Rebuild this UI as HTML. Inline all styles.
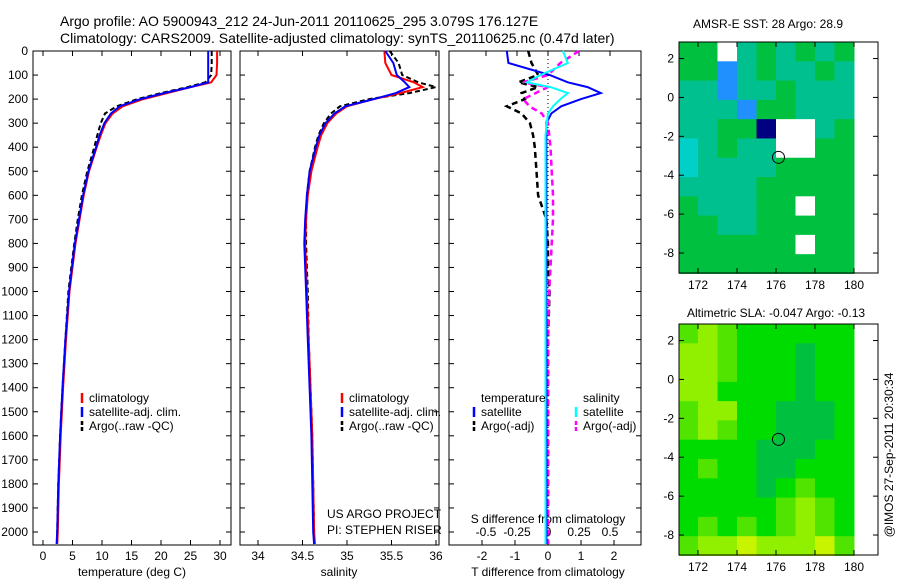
<!DOCTYPE html>
<html><head><meta charset="utf-8"><style>
body{margin:0;background:#fff}
svg{display:block;font-family:"Liberation Sans",sans-serif}
text{fill:#000}
</style></head><body>
<svg id="chart" width="900" height="580" viewBox="0 0 900 580">
<text x="60" y="26" font-size="14">Argo profile: AO 5900943_212 24-Jun-2011 20110625_295 3.079S 176.127E</text>
<text x="60" y="43" font-size="14">Climatology: CARS2009. Satellite-adjusted climatology: synTS_20110625.nc (0.47d later)</text>
<text x="768" y="28" font-size="12" text-anchor="middle">AMSR-E SST: 28 Argo: 28.9</text>
<text x="776" y="317" font-size="12" text-anchor="middle">Altimetric SLA: -0.047 Argo: -0.13</text>
<text transform="translate(893,455) rotate(-90)" font-size="12" text-anchor="middle">@IMOS 27-Sep-2011 20:30:34</text>
<g id="g"></g>
</svg>
<script>
const depths=[0,50,100,130,150,175,200,230,260,300,350,400,500,600,700,800,900,1000,1200,1400,1600,1800,2000,2050];
const tClim=[29.5,29.5,29.4,28.5,25,21,17,13.5,11.8,10.6,9.8,9.1,7.8,6.9,6.2,5.5,5.0,4.5,3.9,3.4,3.0,2.7,2.5,2.4];
const tSat=[28,28,28,28,25,20.5,16.5,13,11.5,10.4,9.6,9.0,7.7,6.8,6.1,5.4,4.9,4.4,3.8,3.3,2.9,2.6,2.4,2.3];
const tArgo=[28.6,28.6,28.5,27.5,24.5,20,16,12.5,10.5,9.8,9.2,8.7,7.5,6.6,5.9,5.3,4.8,4.3,3.8,3.3,2.9,2.6,2.4,2.4];
const sClim=[35.42,35.43,35.5,35.75,35.85,35.6,35.3,35.0,34.88,34.78,34.71,34.67,34.6,34.56,34.54,34.53,34.54,34.55,34.57,34.59,34.61,34.62,34.63,34.64];
const sSat=[35.43,35.52,35.56,35.65,35.7,35.55,35.3,34.98,34.86,34.76,34.69,34.65,34.58,34.55,34.53,34.52,34.53,34.54,34.56,34.58,34.6,34.61,34.62,34.63];
const sArgo=[35.48,35.58,35.62,35.8,36.0,35.7,35.25,34.92,34.82,34.74,34.68,34.64,34.58,34.55,34.54,34.54,34.55,34.56,34.57,34.59,34.61,34.62,34.63,34.63];
const dTsat=[-1.25,-1.2,0.05,0.6,1.2,1.6,1.0,0.4,0.1,-0.05,-0.05,-0.05,-0.05,-0.05,-0.05,-0.05,-0.05,-0.05,-0.05,-0.05,-0.05,-0.05,-0.05,-0.05];
const dSsat=[0.12,0.16,-0.06,-0.17,0.02,0.16,0.1,0.04,0.0,-0.01,-0.02,-0.02,-0.02,-0.02,-0.02,-0.02,-0.02,-0.02,-0.02,-0.02,-0.02,-0.02,-0.02,-0.02];
const dTargo=[-0.6,-0.5,-0.3,-0.9,-0.3,-0.8,-0.7,-1.25,-0.8,-0.55,-0.45,-0.4,-0.35,-0.3,-0.05,0,0,0.05,0,0,0,0,0,0];
const dSargo=[0.25,0.1,0.0,-0.2,0.0,-0.1,-0.2,-0.15,-0.05,0.0,0.01,0.02,0.03,0.04,0.04,0.03,0.02,0.01,0,0,0,0,0,0];
const depthTicks=[0,100,200,300,400,500,600,700,800,900,1000,1100,1200,1300,1400,1500,1600,1700,1800,1900,2000];
const tempTicks=[0,5,10,15,20,25,30];
const salTicks=["34","34.5","35","35.5","36"];
const dTTicks=["-2","-1","0","1","2"];
const dSTicks=["-0.5","-0.25","0","0.25","0.5"];
const lonTicks=[172,174,176,178,180];
const latTicks=[2,0,-2,-4,-6,-8];
const sstRows=["ggwtgtgtg","ggbtgttgt","ttbttgttt","tttbggttt","ttggnwwtg","ctgttwwgg","cttttgggg","ttttggggg","gtttggwgg","ggttggggg","ggggggwgg","ggggggggg"];
const slaRows=["lylGGGGGG","yylGGGdGG","yylGGGdGG","yyGGGGdGG","lyyGGdddG","lylGGdddG","GGGGdddGG","GlGGddGGG","GGGGdGlGG","GGGGGlylG","GlGlGlylG","lyyYyyyYl"];
const profileLat=[-3.079], profileLon=[176.127];

const NS="http://www.w3.org/2000/svg";const G=document.getElementById('g');
function mk(t,a,p){const e=document.createElementNS(NS,t);for(const k in a)e.setAttribute(k,a[k]);(p||G).appendChild(e);return e;}
const yD=d=>51+d*0.2405;
const xT=v=>43+v*5.9, xS=v=>258+(v-34)*89, xdT=v=>548+v*33, xdS=v=>548+v*124;
const panels=[[33,231],[240,439],[449,641]];
panels.forEach((p,i)=>{
 const r=mk('rect',{x:p[0],y:51,width:p[1]-p[0],height:494,fill:'none',stroke:'#000','stroke-width':1});
 
 
 depthTicks.forEach(d=>{mk('line',{x1:p[0],x2:p[0]+5,y1:yD(d),y2:yD(d),stroke:'#000'});mk('line',{x1:p[1]-5,x2:p[1],y1:yD(d),y2:yD(d),stroke:'#000'});});
});
depthTicks.forEach(d=>{const t=mk('text',{x:28,y:yD(d)+4,'font-size':12,'text-anchor':'end'});t.textContent=d;
 
 });
function xticks(vals,fx,y,p){vals.forEach(v=>{const x=fx(+v);mk('line',{x1:x,x2:x,y1:545,y2:540,stroke:'#000'});mk('line',{x1:x,x2:x,y1:51,y2:56,stroke:'#000'});
 const t=mk('text',{x:x,y:y,'font-size':12,'text-anchor':'middle'});t.textContent=v;
 
 });}
xticks(tempTicks,xT,560);xticks(salTicks,xS,560);
dTTicks.forEach(v=>{const x=xdT(+v);mk('line',{x1:x,x2:x,y1:545,y2:540,stroke:'#000'});const t=mk('text',{x:x,y:560,'font-size':12,'text-anchor':'middle'});t.textContent=v;
 
 });
dSTicks.forEach(v=>{const x=xdS(+v);mk('line',{x1:x,x2:x,y1:51,y2:56,stroke:'#000'});const t=mk('text',{x:x,y:536,'font-size':12,'text-anchor':'middle'});t.textContent=v;
 
 });
function lbl(x,y,s,name,anchor){const t=mk('text',{x:x,y:y,'font-size':12,'text-anchor':anchor||'start'});t.textContent=s;
 
 return t;}
lbl(132,576,'temperature (deg C)','x-axis-title-temperature','middle');
lbl(339,576,'salinity','x-axis-title-salinity','middle');
lbl(548,576,'T difference from climatology','x-axis-title-t-diff','middle');
lbl(548,523,'S difference from climatology','axis-title-s-diff','middle');
lbl(327,518,'US ARGO PROJECT','project-label');
lbl(327,534,'PI: STEPHEN RISER','pi-label');
mk('line',{x1:548,x2:548,y1:51,y2:545,stroke:'#000','stroke-dasharray':'1,3'});
function line(xs,fx,col,name,dash,w){const pts=xs.map((v,i)=>fx(v).toFixed(1)+','+yD(depths[i]).toFixed(1)).join(' ');
 const e=mk('polyline',{points:pts,fill:'none',stroke:col,'stroke-width':w||2});if(dash)e.setAttribute('stroke-dasharray',dash);
 
 }
line(tArgo,xT,'#000','temp-argo-line','5,3',2);line(tClim,xT,'#f00','temp-climatology-line');line(tSat,xT,'#00f','temp-satellite-line');
line(sArgo,xS,'#000','sal-argo-line','5,3',2);line(sClim,xS,'#f00','sal-climatology-line');line(sSat,xS,'#00f','sal-satellite-line');
line(dTargo,xdT,'#000','tdiff-argo-line','6,4',2.5);line(dSargo,xdS,'#f0f','sdiff-argo-line','6,4',2.5);line(dTsat,xdT,'#00f','tdiff-satellite-line');line(dSsat,xdS,'#0ff','sdiff-satellite-line');
function leg(x,y,col,s,dash){mk('line',{x1:x,x2:x,y1:y-9,y2:y+1,stroke:col,'stroke-width':2.5,'stroke-dasharray':dash||'none'});lbl(x+7,y,s,'legend-entry');}
[[82,'climatology','#f00'],[342,'climatology','#f00']].forEach(a=>leg(a[0],402,a[2],a[1]));
leg(82,416,'#00f','satellite-adj. clim.');leg(82,430,'#000','Argo(..raw -QC)','4,2');
leg(342,416,'#00f','satellite-adj. clim.');leg(342,430,'#000','Argo(..raw -QC)','4,2');
lbl(481,402,'temperature','legend-header-temperature');lbl(583,402,'salinity','legend-header-salinity');
leg(474,416,'#00f','satellite');leg(474,430,'#000','Argo(-adj)','4,2');leg(576,416,'#0ff','satellite');leg(576,430,'#f0f','Argo(-adj)','4,2');
const sstCol={g:'#00c040',t:'#00c090',c:'#00d0c8',b:'#2090ff',n:'#000080',w:'#ffffff'};
const slaCol={l:'#50e400',y:'#90f000',G:'#00dc00',d:'#00c040',Y:'#c8f400'};
function map(top,rows,cols,name){
 const lx=v=>698+(v-172)*19.5, ly=v=>top+(2.85-v)*19.45;
 rows.forEach((r,i)=>{[...r].forEach((c,j)=>{const x0=Math.max(lx(171+j),679),x1=Math.min(lx(172+j),856);const y0=ly(2.85-i*(11.9/12)),y1=ly(2.85-(i+1)*(11.9/12));
  const e=mk('rect',{x:x0,y:y0,width:x1-x0+0.5,height:y1-y0+0.5,fill:cols[c]});
  
  });});
 const f=mk('rect',{x:679,y:top,width:199,height:231,fill:'none',stroke:'#000'});
 
 
 lonTicks.forEach(v=>{const x=lx(v);mk('line',{x1:x,x2:x,y1:top+231,y2:top+226,stroke:'#000'});mk('line',{x1:x,x2:x,y1:top,y2:top+5,stroke:'#000'});lbl(x,top+247,String(v),name+'-lon-label','middle');});
 latTicks.forEach(v=>{const y=ly(v);mk('line',{x1:679,x2:684,y1:y,y2:y,stroke:'#000'});mk('line',{x1:873,x2:878,y1:y,y2:y,stroke:'#000'});lbl(674,y+4,String(v),name+'-lat-label','end');});
 const c=mk('circle',{cx:lx(profileLon[0]),cy:ly(profileLat[0]),r:6,fill:'none',stroke:'#000'});
 
 
}
map(42,sstRows,sstCol,'sst-map');map(324,slaRows,slaCol,'sla-map');
</script>
</body></html>
